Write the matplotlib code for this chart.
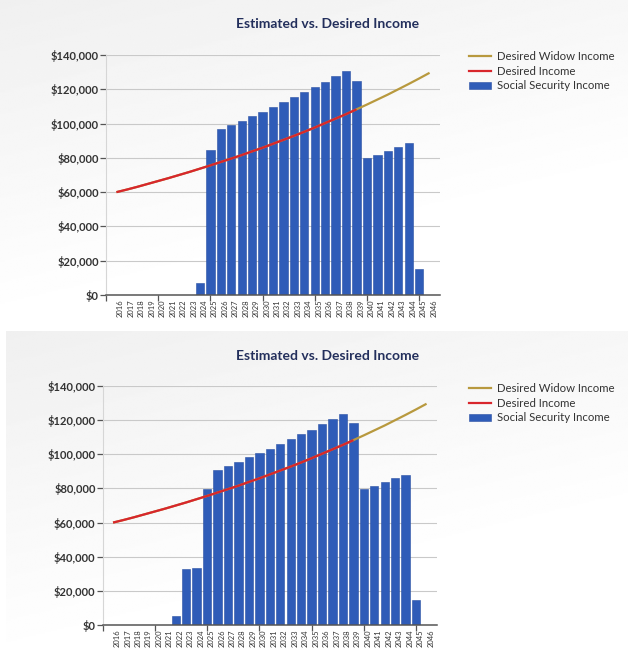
import matplotlib
matplotlib.use("Agg")
import matplotlib.pyplot as plt
import numpy as np
from matplotlib.lines import Line2D
from matplotlib.patches import Patch
from matplotlib.ticker import FuncFormatter

plt.rcParams["font.family"] = ["Lato", "DejaVu Sans"]

# labels on the x axis, one per year
years = list(range(2016, 2047))
# desired income line (red) through 2039, widow income line (gold) for every year
desired_income = [60000, 61500, 63100, 64800, 66500, 68200, 70000, 71800, 73700, 75600,
                  77600, 79600, 81600, 83800, 85900, 88200, 90500, 92800, 95200, 97700,
                  100300, 102900, 105500, 108300]
widow_income = [60000, 61500, 63100, 64800, 66500, 68200, 70000, 71800, 73700, 75600,
                77600, 79600, 81600, 83800, 85900, 88200, 90500, 92800, 95200, 97700,
                100300, 102900, 105500, 108300, 111100, 114000, 116900, 120000, 123100,
                126300, 129600]
# social security bars, years 2016..2045
bar_years = list(range(2016, 2046))
ss_top = [0, 0, 0, 0, 0, 0, 0, 6800, 84700, 96600, 98900, 101400, 104300, 106700, 109500,
          112400, 115400, 118400, 121200, 124300, 127700, 130700, 124800, 80100, 81800,
          84000, 86500, 88400, 15200, 0]
ss_bottom = [0, 0, 0, 0, 0, 5300, 33000, 33600, 79700, 90800, 93200, 95300, 98600, 100600,
             103100, 106000, 109000, 112000, 114300, 117800, 120700, 123800, 118600, 79700,
             81400, 83600, 86100, 87900, 14800, 0]

W, H = 628, 663
fig = plt.figure(figsize=(W / 100, H / 100), dpi=100)
fig.patch.set_facecolor("white")

# soft gradient panels behind the two charts
bg = fig.add_axes([0, 0, 1, 1], zorder=-10)
bg.set_xlim(0, W)
bg.set_ylim(H, 0)
bg.axis("off")
gx, gy = np.meshgrid(np.linspace(0, 1, 200), np.linspace(0, 1, 200))
grad = 0.94 + 0.06 * np.clip(0.45 * gx + 1.0 * gy, 0, 1)
for ext in [(0, W, 324, 0), (6, W, H, 331)]:
    bg.imshow(grad, extent=ext, cmap="gray", vmin=0, vmax=1, aspect="auto", interpolation="bilinear")

BLUE = "#2f5cb8"
RED = "#d8262c"
GOLD = "#b8993e"
TXT = "#333333"
money = FuncFormatter(lambda v, p: "$" + format(int(v), ","))


def draw_chart(rect, ss, title_y, legend_y):
    ax = fig.add_axes(rect)
    ax.patch.set_alpha(0)
    bx = [y - 2016 for y in bar_years]
    ax.bar(bx, ss, width=0.8, color=BLUE, edgecolor="#2a50a3", linewidth=0.4, zorder=3)
    lx = [y - 2016 - 1 for y in years]
    ax.plot(lx, widow_income, color=GOLD, lw=1.6, zorder=4, solid_capstyle="butt")
    ax.plot(lx[:len(desired_income)], desired_income, color=RED, lw=1.6, zorder=5, solid_capstyle="butt")

    ax.set_xlim(-2, 30)
    ax.set_ylim(0, 140000)
    ax.set_yticks(range(0, 140001, 20000))
    ax.yaxis.set_major_formatter(money)
    ax.grid(axis="y", color="#c9c9c9", lw=0.8, zorder=0)
    ax.tick_params(axis="y", length=4, width=0.9, color="#555555", labelsize=8,
                   labelcolor=TXT, pad=1)
    for lab in ax.get_yticklabels():
        lab.set_fontweight("bold")

    ax.set_xticks(range(-2, 30, 5))
    ax.set_xticklabels([])
    ax.set_xticks([y - 2016 - 0.6 for y in years], minor=True)
    ax.set_xticklabels([str(y) for y in years], minor=True, rotation=90, fontsize=5.5)
    ax.tick_params(axis="x", which="major", length=4, width=0.9, color="#555555")
    ax.tick_params(axis="x", which="minor", length=0, pad=3, labelcolor=TXT)

    for s in ["top", "right"]:
        ax.spines[s].set_visible(False)
    ax.spines["left"].set_color("#d6d6d6")
    ax.spines["left"].set_linewidth(0.8)
    ax.spines["bottom"].set_color("#555555")
    ax.spines["bottom"].set_linewidth(1.1)
    ax.spines["bottom"].set_zorder(6)

    fig.text(328 / W, 1 - title_y / H, "Estimated vs. Desired Income", ha="center", va="center",
             fontsize=10, fontweight="bold", color="#232f5c")

    handles = [Line2D([], [], color=GOLD, lw=1.6),
               Line2D([], [], color=RED, lw=1.6),
               Patch(facecolor=BLUE, edgecolor="#2a50a3", lw=0.4)]
    labels = ["Desired Widow Income", "Desired Income", "Social Security Income"]
    fig.legend(handles, labels, loc="upper left", bbox_to_anchor=(469 / W, 1 - legend_y / H),
               frameon=False, fontsize=8.2, handlelength=1.9, handleheight=0.55,
               handletextpad=0.55, labelspacing=0.32, borderpad=0, borderaxespad=0,
               labelcolor=TXT)
    return ax


draw_chart([106 / W, 1 - 295 / H, 334 / W, 240 / H], ss_top, 24, 51)
draw_chart([102.6 / W, 1 - 625 / H, 334.4 / W, 239 / H], ss_bottom, 356, 383)

fig.savefig("out.png", dpi=100)
